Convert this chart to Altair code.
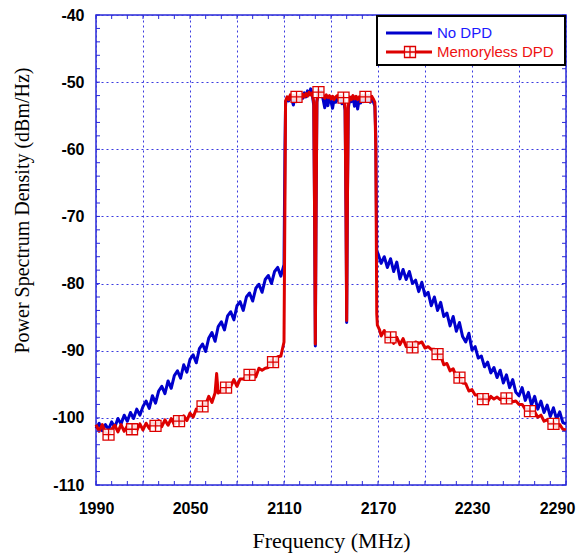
import altair as alt
import pandas as pd

# ---------------- data ----------------
blue_left_f = list(range(1990, 2111, 2))
blue_left_v = [-101.6, -100.8, -101.9, -101.0, -101.7, -100.6, -101.4, -100.1, -100.9, -99.6,
               -100.5, -99.2, -100.1, -98.7, -99.6, -98.3, -97.5, -98.6, -96.7, -97.8,
               -96.0, -95.3, -96.4, -94.5, -95.6, -93.7, -93.0, -94.1, -92.1, -93.2,
               -91.3, -90.6, -91.8, -89.7, -89.0, -90.1, -88.1, -87.3, -88.6, -86.4,
               -85.7, -86.9, -84.8, -84.2, -85.4, -83.3, -82.7, -84.0, -82.0, -81.4,
               -82.6, -80.7, -80.1, -81.3, -79.4, -78.8, -80.0, -78.2, -77.6, -78.9,
               -77.2]
blue_pass_f = [2110.6, 2111, 2112, 2113, 2114, 2115, 2116, 2117, 2118, 2119, 2120, 2121, 2122,
               2123, 2124, 2125, 2126, 2127, 2128, 2129, 2129.6, 2130, 2130.4, 2131, 2132,
               2133, 2134, 2135, 2136, 2137, 2138, 2139, 2140, 2141, 2142, 2143, 2144, 2145,
               2146, 2147, 2148, 2149, 2149.6, 2150, 2150.4, 2151, 2152, 2153, 2154, 2155,
               2156, 2157, 2158, 2159, 2160, 2161, 2162, 2163, 2164, 2165, 2166, 2167, 2168,
               2168.6, 2169.2]
blue_pass_v = [-60.0, -53.2, -52.4, -52.8, -52.0, -52.6, -53.4, -52.2, -52.9, -52.1, -52.7,
               -51.8, -52.4, -51.6, -52.2, -51.3, -51.9, -51.0, -51.8, -53.5, -72.0, -89.3,
               -72.0, -53.0, -51.2, -51.8, -51.4, -52.6, -53.8, -52.4, -53.5, -52.2, -52.9,
               -53.9, -52.5, -53.0, -52.3, -52.8, -52.1, -53.2, -52.6, -54.2, -70.0, -85.8,
               -70.0, -54.0, -52.3, -52.9, -52.1, -53.6, -52.4, -54.0, -52.6, -53.1, -52.2,
               -52.9, -52.0, -52.7, -52.3, -53.0, -52.4, -52.9, -53.6, -58.0, -75.5]
blue_right_f = list(range(2170, 2291, 2))
blue_right_v = [-75.5, -77.0, -76.0, -77.6, -76.3, -78.2, -76.8, -79.3, -77.9, -79.4,
                -78.2, -80.0, -79.5, -81.2, -79.8, -81.8, -81.3, -83.3, -82.0, -84.0,
                -82.8, -84.9, -84.4, -86.3, -84.9, -87.1, -85.8, -87.9, -88.7, -87.4,
                -89.9, -89.4, -91.1, -90.8, -92.4, -91.7, -93.3, -92.5, -94.0, -92.9,
                -94.8, -93.6, -95.5, -94.3, -96.2, -96.7, -95.5, -97.4, -96.2, -98.1,
                -96.8, -98.7, -97.5, -99.2, -98.1, -99.8, -98.5, -100.2, -99.1, -100.7,
                -100.9]

red_left_f = list(range(1990, 2067, 2)) + [2067] + list(range(2068, 2111, 2))
red_left_v = [-101.0, -102.0, -101.0, -102.2, -102.6, -101.7, -101.1, -102.1, -101.0, -102.0,
              -101.2, -102.1, -101.1, -101.9, -100.9, -101.8, -100.8, -101.6, -100.6, -101.4,
              -100.4, -101.3, -100.3, -101.1, -100.1, -101.0, -100.0, -100.8, -99.7, -100.4,
              -99.3, -99.9, -98.7, -98.9, -97.9, -98.0, -96.8, -97.7, -96.3,
              -93.4,
              -96.3, -95.9, -95.9, -95.1, -95.3, -94.3, -95.3, -94.2, -94.2, -93.9,
              -93.9, -93.0, -93.9, -92.6, -92.9, -92.6, -92.5, -91.4, -92.2, -90.9,
              -90.8, -88.7]
red_pass_f = [2110.6, 2111, 2112, 2113, 2114, 2115, 2116, 2117, 2118, 2119, 2120, 2121, 2122,
              2123, 2124, 2125, 2126, 2127, 2128, 2129, 2129.6, 2130, 2130.4, 2131, 2132,
              2133, 2134, 2135, 2136, 2137, 2138, 2139, 2140, 2141, 2142, 2143, 2144, 2145,
              2146, 2147, 2148, 2149, 2149.6, 2150, 2150.4, 2151, 2152, 2153, 2154, 2155,
              2156, 2157, 2158, 2159, 2160, 2161, 2162, 2163, 2164, 2165, 2166, 2167, 2168,
              2168.6, 2169.2]
red_pass_v = [-68.0, -52.8, -52.2, -52.6, -51.9, -52.4, -52.0, -52.5, -52.1, -52.6, -52.0,
              -52.4, -51.8, -52.2, -51.7, -52.1, -51.5, -51.9, -51.6, -53.0, -72.0, -89.0,
              -72.0, -52.8, -51.4, -51.8, -51.5, -52.0, -52.4, -51.9, -52.3, -52.0, -52.5,
              -52.1, -52.6, -52.2, -52.0, -52.5, -52.1, -52.4, -52.2, -53.8, -70.0, -85.5,
              -70.0, -53.4, -52.2, -52.6, -52.0, -52.5, -52.1, -52.6, -52.2, -52.5, -52.0,
              -52.4, -52.1, -52.5, -52.0, -52.4, -52.1, -52.5, -53.0, -60.0, -84.5]
red_right_f = [2169.6, 2171] + list(range(2172, 2291, 2))
red_right_v = [-86.2, -86.9,
               -87.8, -87.0, -88.3, -87.8, -88.9, -88.0, -89.1, -88.2, -89.4, -89.1,
               -89.9, -88.7, -88.9, -88.7, -89.6, -89.4, -89.8, -89.8, -90.8, -90.7,
               -92.1, -91.9, -93.0, -92.7, -93.9, -93.7, -94.8, -94.9, -96.0, -95.8,
               -96.6, -96.6, -97.4, -96.8, -97.6, -96.8, -97.2, -96.9, -97.3, -96.9,
               -97.4, -97.2, -97.6, -97.5, -98.0, -98.0, -98.7, -98.7, -99.3, -99.1,
               -99.9, -99.6, -100.5, -100.3, -100.9, -100.7, -101.4, -101.0, -101.7, -101.8]

marker_f = [1998, 2013, 2028, 2043, 2058, 2073, 2088, 2103, 2118, 2132, 2148, 2162,
            2178, 2192, 2208, 2222, 2237, 2252, 2267, 2282]
marker_v = [-102.5, -101.7, -101.2, -100.5, -98.3, -95.5, -93.6, -91.7, -52.2, -51.5, -52.3,
            -52.2, -88.0, -89.5, -90.5, -94.0, -97.2, -97.1, -99.0, -100.9]

series_names = ["No DPD", "Memoryless DPD"]
x_grid = [1990, 2020, 2050, 2080, 2110, 2140, 2170, 2200, 2230, 2260, 2290]
y_grid = [-110, -100, -90, -80, -70, -60, -50, -40]
x_minor = list(range(1990, 2291, 10))
y_minor = list(range(-110, -39, 2))

# ---------------- styles ----------------
BLUE = "#0000cc"
RED = "#dd0000"
BLUE_TXT = "#1a1aff"
RED_TXT = "#ee1111"
FRAME = "#2a2ad8"
GRID = "#3a3ae0"
W, H = 470, 470

X_SCALE = alt.Scale(domain=[1990, 2290], nice=False, zero=False)
Y_SCALE = alt.Scale(domain=[-110, -40], nice=False, zero=False)

blue_df = pd.DataFrame({"f": blue_left_f + blue_pass_f + blue_right_f,
                        "v": blue_left_v + blue_pass_v + blue_right_v})
red_df = pd.DataFrame({"f": red_left_f + red_pass_f + red_right_f,
                       "v": red_left_v + red_pass_v + red_right_v})
mk_df = pd.DataFrame({"f": marker_f, "v": marker_v})

x_axis = alt.Axis(values=x_grid,
                  labelExpr="(datum.value - 1990) % 60 == 0 ? '' + datum.value : ''",
                  labelOffset={"condition": {"test": "datum.value == 2290", "value": -9},
                               "value": 0},
                  grid=True, gridColor=GRID, gridDash=[2, 3], gridWidth=1,
                  ticks=False, tickSize=0, domain=False,
                  labelFont="Liberation Sans", labelFontWeight="bold", labelFontSize=16,
                  labelColor="black", labelPadding=15, labelFlush=False, labelOverlap=False,
                  title="Frequency (MHz)", titleFont="Liberation Serif", titleFontSize=22,
                  titleFontWeight="normal", titleColor="black", titleY=62,
                  titleBaseline="alphabetic")
y_axis = alt.Axis(values=y_grid, labelExpr="'' + datum.value",
                  grid=True, gridColor=GRID, gridDash=[2, 3], gridWidth=1,
                  ticks=False, tickSize=0, domain=False,
                  labelFont="Liberation Sans", labelFontWeight="bold", labelFontSize=16,
                  labelColor="black", labelPadding=12, labelFlush=False, labelOverlap=False,
                  title="Power Spectrum Density (dBm/Hz)", titleFont="Liberation Serif",
                  titleFontSize=20, titleFontWeight="normal", titleColor="black",
                  titleAngle=270, titleX=-68, titleY=195, titleAlign="center",
                  titleBaseline="alphabetic")

X_ENC = alt.X("f:Q", scale=X_SCALE, axis=x_axis)
Y_ENC = alt.Y("v:Q", scale=Y_SCALE, axis=y_axis)

blue_line = alt.Chart(blue_df).mark_line(color=BLUE, strokeWidth=3, strokeJoin="round").encode(
    x=X_ENC, y=Y_ENC)
red_line = alt.Chart(red_df).mark_line(color=RED, strokeWidth=3, strokeJoin="round").encode(
    x=X_ENC, y=Y_ENC)
MK_SHAPE = "M-1,-1L1,-1L1,1L-1,1Z M0,-1L0,1 M-1,0L1,0"
markers = alt.Chart(mk_df).mark_point(shape=MK_SHAPE, size=121, filled=True, fill="white",
                                      fillOpacity=0.85, stroke=RED, strokeWidth=1.3,
                                      opacity=1).encode(x=X_ENC, y=Y_ENC)

ydf = pd.DataFrame({"v": y_minor})
xdf = pd.DataFrame({"f": x_minor})
tick_left = alt.Chart(ydf).mark_rule(color=FRAME, strokeWidth=1).encode(
    y=Y_ENC, x=alt.value(0), x2=alt.value(4))
tick_right = alt.Chart(ydf).mark_rule(color=FRAME, strokeWidth=1).encode(
    y=Y_ENC, x=alt.value(W), x2=alt.value(W - 4))
tick_bottom = alt.Chart(xdf).mark_rule(color=FRAME, strokeWidth=1).encode(
    x=X_ENC, y=alt.value(H), y2=alt.value(H - 4))
tick_top = alt.Chart(xdf).mark_rule(color=FRAME, strokeWidth=1).encode(
    x=X_ENC, y=alt.value(0), y2=alt.value(4))

one = pd.DataFrame({"a": [0]})
leg_box = alt.Chart(one).mark_rect(fill="white", stroke="black", strokeWidth=2).encode(
    x=alt.value(281), x2=alt.value(469), y=alt.value(1), y2=alt.value(50))
leg_blue = alt.Chart(one).mark_rule(color=BLUE, strokeWidth=3).encode(
    x=alt.value(290), x2=alt.value(336), y=alt.value(18))
leg_red = alt.Chart(one).mark_rule(color=RED, strokeWidth=3).encode(
    x=alt.value(290), x2=alt.value(336), y=alt.value(37))
leg_mk = alt.Chart(one).mark_point(shape=MK_SHAPE, size=121, filled=True, fill="white",
                                   fillOpacity=0.85, stroke=RED, strokeWidth=1.3,
                                   opacity=1).encode(x=alt.value(314), y=alt.value(37))
leg_t1 = alt.Chart(one).mark_text(align="left", baseline="middle", font="Liberation Sans",
                                  fontSize=15, color=BLUE_TXT).encode(
    x=alt.value(341), y=alt.value(18), text=alt.value(series_names[0]))
leg_t2 = alt.Chart(one).mark_text(align="left", baseline="middle", font="Liberation Sans",
                                  fontSize=15, color=RED_TXT).encode(
    x=alt.value(341), y=alt.value(37), text=alt.value(series_names[1]))

chart = alt.layer(
    blue_line, red_line, markers,
    tick_left, tick_right, tick_bottom, tick_top,
    leg_box, leg_blue, leg_red, leg_mk, leg_t1, leg_t2,
).properties(
    width=W, height=H,
    autosize=alt.AutoSizeParams(type="none"),
    padding={"left": 88, "top": 7, "right": 11, "bottom": 69},
    background="white",
).configure_view(stroke=FRAME, strokeWidth=1.5)

chart.save("out.html", embed_options={"renderer": "svg", "actions": False})
